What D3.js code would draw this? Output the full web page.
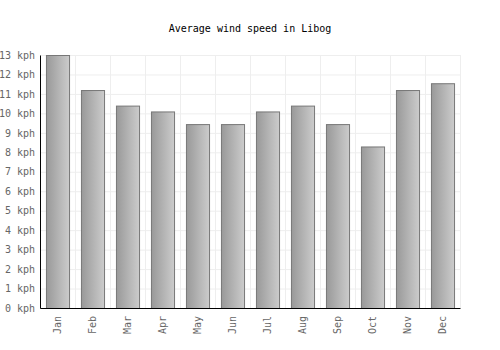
<html>
<head>
<script src="https://d3js.org/d3.v7.min.js"></script>
<style>
 body { margin: 0; background: #fff; }
 text { font-family: "DejaVu Sans Mono", monospace; }
</style>
</head>
<body>
<svg width="500" height="350"></svg>
<script>
// data
var months = ["Jan","Feb","Mar","Apr","May","Jun","Jul","Aug","Sep","Oct","Nov","Dec"];
var windSpeed = [13, 11.2, 10.4, 10.1, 9.45, 9.45, 10.1, 10.4, 9.45, 8.3, 11.2, 11.55];
var yTicks = [0,1,2,3,4,5,6,7,8,9,10,11,12,13];

var margin = {top: 55, right: 40, bottom: 42, left: 40},
    width = 500 - margin.left - margin.right,
    height = 350 - margin.top - margin.bottom;

var svg = d3.select("svg");

var defs = svg.append("defs");
var grad = defs.append("linearGradient").attr("id", "barGrad")
  .attr("x1", "0%").attr("x2", "100%").attr("y1", "0%").attr("y2", "0%");
grad.append("stop").attr("offset", "0%").attr("stop-color", "#999");
grad.append("stop").attr("offset", "100%").attr("stop-color", "#ccc");

svg.append("text")
  .attr("x", 250).attr("y", 32)
  .attr("text-anchor", "middle")
  .style("font-size", "10px")
  .text("Average wind speed in Libog");

var g = svg.append("g").attr("transform", "translate(" + margin.left + "," + margin.top + ")");

var x = d3.scaleBand().domain(months).range([0, width]);
var y = d3.scaleLinear().domain([0, 13]).range([height, 0]);

// grid
g.selectAll(".hgrid").data(yTicks).enter().append("line")
  .attr("x1", 0).attr("x2", width)
  .attr("y1", function(d) { return y(d) + 0.5; }).attr("y2", function(d) { return y(d) + 0.5; })
  .attr("stroke", "#eee");
g.selectAll(".vgrid").data(months).enter().append("line")
  .attr("x1", function(d) { return x(d) + x.bandwidth() + 0.5; })
  .attr("x2", function(d) { return x(d) + x.bandwidth() + 0.5; })
  .attr("y1", 0).attr("y2", height)
  .attr("stroke", "#eee");

// bars
var bw = x.bandwidth() * 0.66;
g.selectAll("rect.bar").data(windSpeed).enter().append("rect")
  .attr("x", function(d, i) { return x(months[i]) + (x.bandwidth() - bw) / 2 + 0.5; })
  .attr("y", function(d) { return y(d) + 0.5; })
  .attr("width", bw)
  .attr("height", function(d) { return height - y(d); })
  .attr("fill", "url(#barGrad)")
  .attr("stroke", "#777");

// axes
var yAxis = g.append("g")
  .call(d3.axisLeft(y).tickValues(yTicks).tickSize(0).tickPadding(5).tickFormat(function(d) { return d + " kph"; }));
yAxis.select(".domain").attr("stroke", "#000");
yAxis.selectAll("text").style("font-size", "10px").attr("fill", "#666").attr("font-family", "DejaVu Sans Mono");

var xAxis = g.append("g").attr("transform", "translate(0," + height + ")")
  .call(d3.axisBottom(x).tickSize(0).tickPadding(8));
xAxis.select(".domain").attr("stroke", "#000");
xAxis.selectAll("text")
  .style("font-size", "10px").attr("fill", "#666").attr("font-family", "DejaVu Sans Mono")
  .attr("transform", "rotate(-90)")
  .attr("text-anchor", "end")
  .attr("x", -8).attr("y", 0).attr("dy", "0.35em");
</script>
</body>
</html>
